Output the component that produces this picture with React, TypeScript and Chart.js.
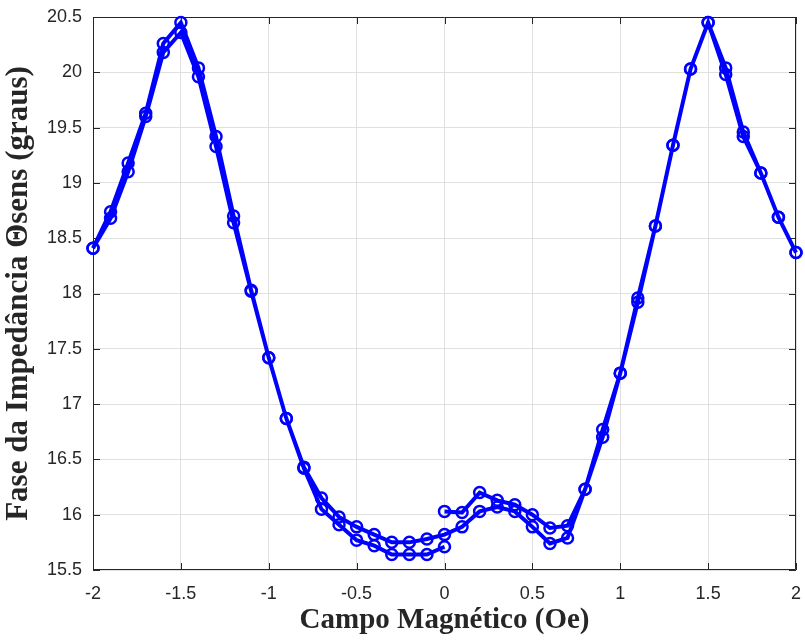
import React, { useEffect, useRef } from "react";
import { Chart, registerables } from "chart.js";

Chart.register(...registerables);

// Sweep 1: 0 -> +2 Oe
const fieldSweep1 = [0, 0.1, 0.2, 0.3, 0.4, 0.5, 0.6, 0.7, 0.8, 0.9, 1.0, 1.1, 1.2, 1.3, 1.4, 1.5, 1.6, 1.7, 1.8, 1.9, 2.0];
const phaseSweep1 = [16.03, 16.02, 16.2, 16.13, 16.09, 16.0, 15.88, 15.9, 16.23, 16.77, 17.28, 17.96, 18.61, 19.34, 20.03, 20.45, 20.04, 19.46, 19.09, 18.69, 18.37];

// Sweep 2: +2 -> -2 Oe
const fieldSweep2 = [2.0, 1.9, 1.8, 1.7, 1.6, 1.5, 1.4, 1.3, 1.2, 1.1, 1.0, 0.9, 0.8, 0.7, 0.6, 0.5, 0.4, 0.3, 0.2, 0.1, 0, -0.1, -0.2, -0.3, -0.4, -0.5, -0.6, -0.7, -0.8, -0.9, -1.0, -1.1, -1.2, -1.3, -1.4, -1.5, -1.6, -1.7, -1.8, -1.9, -2.0];
const phaseSweep2 = [18.37, 18.69, 19.09, 19.42, 19.98, 20.45, 20.03, 19.34, 18.61, 17.92, 17.28, 16.7, 16.23, 15.79, 15.74, 15.89, 16.03, 16.07, 16.03, 15.89, 15.82, 15.78, 15.75, 15.75, 15.82, 15.89, 15.98, 16.15, 16.43, 16.87, 17.42, 18.03, 18.7, 19.42, 20.04, 20.45, 20.26, 19.63, 19.18, 18.74, 18.41];

// Sweep 3: -2 -> 0 Oe
const fieldSweep3 = [-2.0, -1.9, -1.8, -1.7, -1.6, -1.5, -1.4, -1.3, -1.2, -1.1, -1.0, -0.9, -0.8, -0.7, -0.6, -0.5, -0.4, -0.3, -0.2, -0.1, 0];
const phaseSweep3 = [18.41, 18.68, 19.1, 19.6, 20.18, 20.36, 19.96, 19.33, 18.64, 18.02, 17.42, 16.87, 16.42, 16.05, 15.91, 15.77, 15.72, 15.64, 15.64, 15.64, 15.71];

const xTitle = "Campo Magnético (Oe)";
const yTitle = "Fase da Impedância Θsens (graus)";
const xMin = -2, xMax = 2, xStep = 0.5;
const yMin = 15.5, yMax = 20.5, yStep = 0.5;

const AXIS_COLOR = "#262626";

const fmt = (v: number | string) => String(Number(Number(v).toFixed(2)));

const boxPlugin = {
  id: "matlabBox",
  beforeDatasetsDraw(chart: any) {
    const { ctx, chartArea } = chart;
    const { left, right, top, bottom } = chartArea;
    ctx.save();
    ctx.strokeStyle = AXIS_COLOR;
    ctx.lineWidth = 1;
    ctx.beginPath();
    ctx.rect(left + 0.5, top + 0.5, right - left - 1, bottom - top - 1);
    ctx.stroke();
    const tl = 7;
    const xs = chart.scales.x;
    const ys = chart.scales.y;
    ctx.beginPath();
    xs.ticks.forEach((t: any) => {
      const px = Math.round(xs.getPixelForValue(t.value)) + 0.5;
      ctx.moveTo(px, bottom);
      ctx.lineTo(px, bottom - tl);
      ctx.moveTo(px, top);
      ctx.lineTo(px, top + tl);
    });
    ys.ticks.forEach((t: any) => {
      const py = Math.round(ys.getPixelForValue(t.value)) + 0.5;
      ctx.moveTo(left, py);
      ctx.lineTo(left + tl, py);
      ctx.moveTo(right, py);
      ctx.lineTo(right - tl, py);
    });
    ctx.stroke();
    ctx.restore();
  },
};

export default function App() {
  const ref = useRef<HTMLCanvasElement | null>(null);
  useEffect(() => {
    if (!ref.current) return;
    const toPoints = (xs: number[], ys: number[]) => xs.map((x, i) => ({ x, y: ys[i] }));
    const data = [
      ...toPoints(fieldSweep1, phaseSweep1),
      ...toPoints(fieldSweep2, phaseSweep2),
      ...toPoints(fieldSweep3, phaseSweep3),
    ];
    const tickFont = { family: "'Liberation Sans', Arial, sans-serif", size: 18 };
    const titleFont = { family: "'Liberation Serif', 'Times New Roman', serif", size: 29, weight: "bold" as const };
    const chart = new Chart(ref.current, {
      type: "line",
      data: {
        datasets: [
          {
            data,
            borderColor: "#0000ff",
            borderWidth: 4,
            pointRadius: 5.5,
            pointBorderWidth: 2.5,
            pointBorderColor: "#0000ff",
            pointBackgroundColor: "rgba(0,0,0,0)",
            tension: 0,
            fill: false,
            clip: false as any,
          },
        ],
      },
      options: {
        animation: false,
        responsive: false,
        events: [],
        layout: { padding: { top: 17, right: 9, left: 0, bottom: 0 } },
        plugins: { legend: { display: false }, tooltip: { enabled: false } },
        scales: {
          x: {
            type: "linear",
            min: xMin,
            max: xMax,
            ticks: { stepSize: xStep, color: AXIS_COLOR, font: tickFont, padding: 13, maxRotation: 0, callback: (v: any) => fmt(v) },
            grid: { color: "#e0e0e0", lineWidth: 1, drawTicks: false },
            border: { display: false },
            title: { display: true, text: xTitle, color: AXIS_COLOR, font: titleFont, padding: { top: 0, bottom: 2 } },
            afterFit: (s: any) => { s.height = 70; s.paddingLeft = 0; s.paddingRight = 0; },
          },
          y: {
            type: "linear",
            min: yMin,
            max: yMax,
            ticks: { stepSize: yStep, color: AXIS_COLOR, font: tickFont, padding: 11, callback: (v: any) => fmt(v) },
            grid: { color: "#e0e0e0", lineWidth: 1, drawTicks: false },
            border: { display: false },
            title: { display: true, text: yTitle, color: AXIS_COLOR, font: { ...titleFont, size: 31 }, padding: { top: 0, bottom: 0 } },
            afterFit: (s: any) => { s.width = 93; s.paddingTop = 0; s.paddingBottom = 0; },
          },
        },
      },
      plugins: [boxPlugin],
    });
    return () => chart.destroy();
  }, []);
  return (
    <div style={{ position: "absolute", left: 0, top: 0, width: 805, height: 640, background: "#fff" }}>
      <canvas ref={ref} width={805} height={640} style={{ display: "block" }} />
    </div>
  );
}
